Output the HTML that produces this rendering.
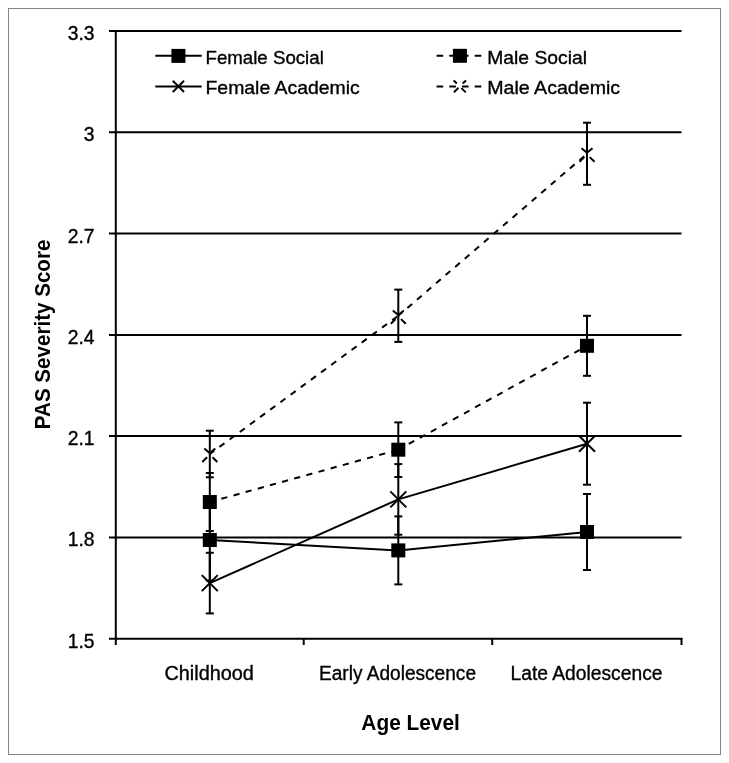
<!DOCTYPE html><html><head><meta charset="utf-8"><style>html,body{margin:0;padding:0;background:#fff;}svg{display:block;filter:grayscale(1);}text{font-family:"Liberation Sans",sans-serif;fill:#000;}.t{stroke:#000;stroke-width:0.35px;}</style></head><body>
<svg width="729" height="763" viewBox="0 0 729 763">
<rect x="0" y="0" width="729" height="763" fill="#fff"/>
<rect x="8.5" y="8.5" width="712" height="746" fill="none" stroke="#868686" stroke-width="1"/>
<line x1="109" y1="31.0" x2="681.5" y2="31.0" stroke="#000" stroke-width="2"/>
<line x1="109" y1="132.3" x2="681.5" y2="132.3" stroke="#000" stroke-width="2"/>
<line x1="109" y1="233.6" x2="681.5" y2="233.6" stroke="#000" stroke-width="2"/>
<line x1="109" y1="334.9" x2="681.5" y2="334.9" stroke="#000" stroke-width="2"/>
<line x1="109" y1="436.1" x2="681.5" y2="436.1" stroke="#000" stroke-width="2"/>
<line x1="109" y1="537.4" x2="681.5" y2="537.4" stroke="#000" stroke-width="2"/>
<line x1="109" y1="638.7" x2="682.5" y2="638.7" stroke="#000" stroke-width="2"/>
<line x1="115.8" y1="30" x2="115.8" y2="645" stroke="#000" stroke-width="2"/>
<line x1="303.7" y1="638.7" x2="303.7" y2="645" stroke="#000" stroke-width="2"/>
<line x1="492.2" y1="638.7" x2="492.2" y2="645" stroke="#000" stroke-width="2"/>
<line x1="681.5" y1="638.7" x2="681.5" y2="645" stroke="#000" stroke-width="2"/>
<text x="94.5" y="39.9" class="t" font-size="19.3" text-anchor="end">3.3</text>
<text x="94.5" y="141.2" class="t" font-size="19.3" text-anchor="end">3</text>
<text x="94.5" y="242.5" class="t" font-size="19.3" text-anchor="end">2.7</text>
<text x="94.5" y="343.8" class="t" font-size="19.3" text-anchor="end">2.4</text>
<text x="94.5" y="445.0" class="t" font-size="19.3" text-anchor="end">2.1</text>
<text x="94.5" y="546.3" class="t" font-size="19.3" text-anchor="end">1.8</text>
<text x="94.5" y="647.6" class="t" font-size="19.3" text-anchor="end">1.5</text>
<text x="209.2" y="680.1" class="t" font-size="19.5" text-anchor="middle" textLength="89.5" lengthAdjust="spacingAndGlyphs">Childhood</text>
<text x="397.5" y="680.1" class="t" font-size="19.5" text-anchor="middle" textLength="157" lengthAdjust="spacingAndGlyphs">Early Adolescence</text>
<text x="586.5" y="680.1" class="t" font-size="19.5" text-anchor="middle" textLength="152" lengthAdjust="spacingAndGlyphs">Late Adolescence</text>
<text x="410.6" y="729.7" font-size="22.5" font-weight="bold" text-anchor="middle" textLength="98.5" lengthAdjust="spacingAndGlyphs">Age Level</text>
<text transform="translate(50,334.4) rotate(-90)" x="0" y="0" font-size="22.5" font-weight="bold" text-anchor="middle" textLength="189.6" lengthAdjust="spacingAndGlyphs">PAS Severity Score</text>
<line x1="209.8" y1="499.5" x2="209.8" y2="580.5" stroke="#000" stroke-width="2"/>
<line x1="205.8" y1="499.5" x2="213.8" y2="499.5" stroke="#000" stroke-width="2"/>
<line x1="205.8" y1="580.5" x2="213.8" y2="580.5" stroke="#000" stroke-width="2"/>
<line x1="398.3" y1="516.4" x2="398.3" y2="584.4" stroke="#000" stroke-width="2"/>
<line x1="394.3" y1="516.4" x2="402.3" y2="516.4" stroke="#000" stroke-width="2"/>
<line x1="394.3" y1="584.4" x2="402.3" y2="584.4" stroke="#000" stroke-width="2"/>
<line x1="587.0" y1="494.0" x2="587.0" y2="570.0" stroke="#000" stroke-width="2"/>
<line x1="583.0" y1="494.0" x2="591.0" y2="494.0" stroke="#000" stroke-width="2"/>
<line x1="583.0" y1="570.0" x2="591.0" y2="570.0" stroke="#000" stroke-width="2"/>
<line x1="209.8" y1="473.0" x2="209.8" y2="531.0" stroke="#000" stroke-width="2"/>
<line x1="205.8" y1="473.0" x2="213.8" y2="473.0" stroke="#000" stroke-width="2"/>
<line x1="205.8" y1="531.0" x2="213.8" y2="531.0" stroke="#000" stroke-width="2"/>
<line x1="398.3" y1="422.4" x2="398.3" y2="477.0" stroke="#000" stroke-width="2"/>
<line x1="394.3" y1="422.4" x2="402.3" y2="422.4" stroke="#000" stroke-width="2"/>
<line x1="394.3" y1="477.0" x2="402.3" y2="477.0" stroke="#000" stroke-width="2"/>
<line x1="587.0" y1="315.8" x2="587.0" y2="375.8" stroke="#000" stroke-width="2"/>
<line x1="583.0" y1="315.8" x2="591.0" y2="315.8" stroke="#000" stroke-width="2"/>
<line x1="583.0" y1="375.8" x2="591.0" y2="375.8" stroke="#000" stroke-width="2"/>
<line x1="209.8" y1="552.8" x2="209.8" y2="613.4" stroke="#000" stroke-width="2"/>
<line x1="205.8" y1="552.8" x2="213.8" y2="552.8" stroke="#000" stroke-width="2"/>
<line x1="205.8" y1="613.4" x2="213.8" y2="613.4" stroke="#000" stroke-width="2"/>
<line x1="398.3" y1="464.1" x2="398.3" y2="534.7" stroke="#000" stroke-width="2"/>
<line x1="394.3" y1="464.1" x2="402.3" y2="464.1" stroke="#000" stroke-width="2"/>
<line x1="394.3" y1="534.7" x2="402.3" y2="534.7" stroke="#000" stroke-width="2"/>
<line x1="587.0" y1="402.7" x2="587.0" y2="484.7" stroke="#000" stroke-width="2"/>
<line x1="583.0" y1="402.7" x2="591.0" y2="402.7" stroke="#000" stroke-width="2"/>
<line x1="583.0" y1="484.7" x2="591.0" y2="484.7" stroke="#000" stroke-width="2"/>
<line x1="209.8" y1="430.7" x2="209.8" y2="477.3" stroke="#000" stroke-width="2"/>
<line x1="205.8" y1="430.7" x2="213.8" y2="430.7" stroke="#000" stroke-width="2"/>
<line x1="205.8" y1="477.3" x2="213.8" y2="477.3" stroke="#000" stroke-width="2"/>
<line x1="398.3" y1="289.6" x2="398.3" y2="341.9" stroke="#000" stroke-width="2"/>
<line x1="394.3" y1="289.6" x2="402.3" y2="289.6" stroke="#000" stroke-width="2"/>
<line x1="394.3" y1="341.9" x2="402.3" y2="341.9" stroke="#000" stroke-width="2"/>
<line x1="587.0" y1="122.7" x2="587.0" y2="184.8" stroke="#000" stroke-width="2"/>
<line x1="583.0" y1="122.7" x2="591.0" y2="122.7" stroke="#000" stroke-width="2"/>
<line x1="583.0" y1="184.8" x2="591.0" y2="184.8" stroke="#000" stroke-width="2"/>
<polyline points="209.8,540.0 398.3,550.4 587.0,532.0" fill="none" stroke="#000" stroke-width="2"/>
<line x1="209.8" y1="502.0" x2="398.3" y2="449.7" stroke="#000" stroke-width="2" stroke-dasharray="6.2 6.4" stroke-dashoffset="0.6"/>
<line x1="398.3" y1="449.7" x2="587.0" y2="345.8" stroke="#000" stroke-width="2" stroke-dasharray="6.2 6.4" stroke-dashoffset="0.6"/>
<polyline points="209.8,583.1 398.3,499.4 587.0,443.7" fill="none" stroke="#000" stroke-width="2"/>
<line x1="209.8" y1="454.0" x2="398.3" y2="315.75" stroke="#000" stroke-width="2" stroke-dasharray="6.2 6.4" stroke-dashoffset="0.6"/>
<line x1="398.3" y1="315.75" x2="587.0" y2="153.75" stroke="#000" stroke-width="2" stroke-dasharray="6.2 6.4" stroke-dashoffset="0.6"/>
<rect x="202.8" y="533.0" width="14" height="14" fill="#000"/>
<rect x="202.8" y="495.0" width="14" height="14" fill="#000"/>
<path d="M201.8,575.1L217.8,591.1M217.8,575.1L201.8,591.1" stroke="#000" stroke-width="2" fill="none"/>
<path d="M204.3,448.6L209.8,453.1L215.3,448.6M207.1,457.3L202.3,462.0M212.5,457.3L217.3,462.0" stroke="#000" stroke-width="2" fill="none" stroke-linejoin="miter"/>
<rect x="391.3" y="543.4" width="14" height="14" fill="#000"/>
<rect x="391.3" y="442.7" width="14" height="14" fill="#000"/>
<path d="M390.3,491.4L406.3,507.4M406.3,491.4L390.3,507.4" stroke="#000" stroke-width="2" fill="none"/>
<path d="M392.8,310.4L398.3,314.9L403.8,310.4M395.6,319.1L390.8,323.8M401.0,319.1L405.8,323.8" stroke="#000" stroke-width="2" fill="none" stroke-linejoin="miter"/>
<rect x="580.0" y="525.0" width="14" height="14" fill="#000"/>
<rect x="580.0" y="338.8" width="14" height="14" fill="#000"/>
<path d="M579.0,435.7L595.0,451.7M595.0,435.7L579.0,451.7" stroke="#000" stroke-width="2" fill="none"/>
<path d="M581.5,148.3L587.0,152.8L592.5,148.3M584.3,157.1L579.5,161.8M589.7,157.1L594.5,161.8" stroke="#000" stroke-width="2" fill="none" stroke-linejoin="miter"/>
<line x1="155.3" y1="55.8" x2="201.7" y2="55.8" stroke="#000" stroke-width="2"/>
<rect x="171.4" y="48.9" width="14" height="14" fill="#000"/>
<line x1="155.3" y1="86.4" x2="201.7" y2="86.4" stroke="#000" stroke-width="2"/>
<path d="M172.8,80.75L184.0,91.94999999999999M184.0,80.75L172.8,91.94999999999999" stroke="#000" stroke-width="2" fill="none"/>
<line x1="436.6" y1="55.8" x2="481.3" y2="55.8" stroke="#000" stroke-width="2" stroke-dasharray="6.6 6.1"/>
<rect x="452.9" y="48.8" width="14" height="14" fill="#000"/>
<line x1="436.6" y1="86.4" x2="481.3" y2="86.4" stroke="#000" stroke-width="2" stroke-dasharray="6.6 6.1"/>
<path d="M453.7,80.4L456.8,83.5M466.0,80.4L462.6,83.5M453.9,92.4L458.4,87.8M465.8,92.4L461.4,88.1" stroke="#000" stroke-width="2" fill="none"/>
<text x="205.5" y="64" class="t" font-size="18.5" textLength="118.3" lengthAdjust="spacingAndGlyphs">Female Social</text>
<text x="205.5" y="94.4" class="t" font-size="18.5" textLength="154.3" lengthAdjust="spacingAndGlyphs">Female Academic</text>
<text x="487.2" y="64" class="t" font-size="18.5" textLength="99.8" lengthAdjust="spacingAndGlyphs">Male Social</text>
<text x="487.2" y="94.4" class="t" font-size="18.5" textLength="133.0" lengthAdjust="spacingAndGlyphs">Male Academic</text>
</svg></body></html>
